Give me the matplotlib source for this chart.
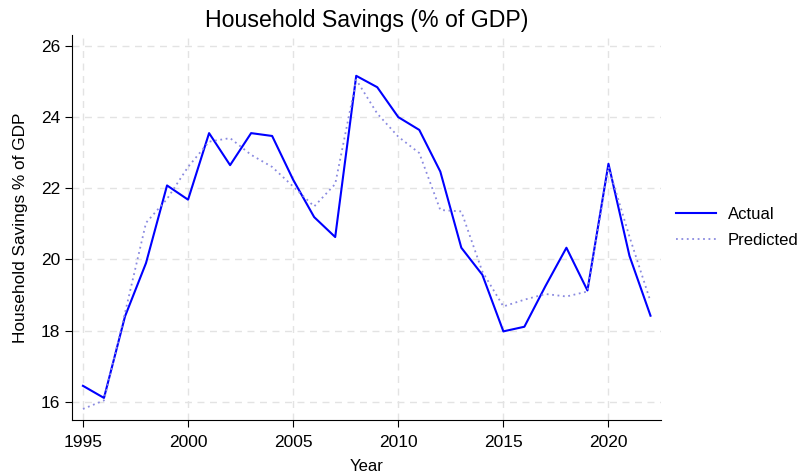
import matplotlib
matplotlib.use("Agg")
import matplotlib.pyplot as plt

plt.rcParams['font.family'] = ['Liberation Sans', 'DejaVu Sans']

years = list(range(1995, 2023))
actual = [16.45, 16.11, 18.4, 19.9, 22.08, 21.68, 23.55, 22.65, 23.55, 23.47,
          22.24, 21.19, 20.63, 25.16, 24.84, 24.0, 23.64, 22.47, 20.33, 19.57,
          17.98, 18.11, 19.25, 20.33, 19.13, 22.69, 20.1, 18.42]
predicted = [15.8, 16.04, 18.5, 21.03, 21.7, 22.6, 23.31, 23.41, 22.94, 22.6,
             22.05, 21.49, 22.12, 25.05, 24.1, 23.45, 22.99, 21.39, 21.35, 19.66,
             18.68, 18.87, 19.03, 18.96, 19.1, 22.6, 20.64, 18.82]

fig = plt.figure(figsize=(8.03, 4.75), dpi=100)
ax = fig.add_axes([0.0897, 0.1158, 0.734, 0.81])

ax.plot(years, actual, color='#0000ff', lw=1.5, label='Actual')
ax.plot(years, predicted, color='#8a8ae0', lw=1.3, ls=(0, (1, 2)), label='Predicted')

ax.set_xlim(1994.48, 2022.52)
ax.set_ylim(15.49, 26.3)
ax.set_xticks(range(1995, 2021, 5))
ax.set_yticks(range(16, 27, 2))
ax.grid(True, color='#e3e3e3', ls=(0, (5, 4)), lw=1)
ax.set_axisbelow(True)
for s in ['top', 'right']:
    ax.spines[s].set_visible(False)
ax.tick_params(labelsize=12.5, length=5)
ax.tick_params(axis='x', pad=6)

ax.set_title('Household Savings (% of GDP)', fontsize=16.7)
ax.set_xlabel('Year', fontsize=12, labelpad=6)
ax.set_ylabel('Household Savings % of GDP', fontsize=12.4, labelpad=9)
ax.legend(loc='center left', bbox_to_anchor=(1.0, 0.5), frameon=False, fontsize=12,
          handlelength=2.4, handletextpad=0.7, labelspacing=0.65)

fig.savefig('out.png', dpi=100)
